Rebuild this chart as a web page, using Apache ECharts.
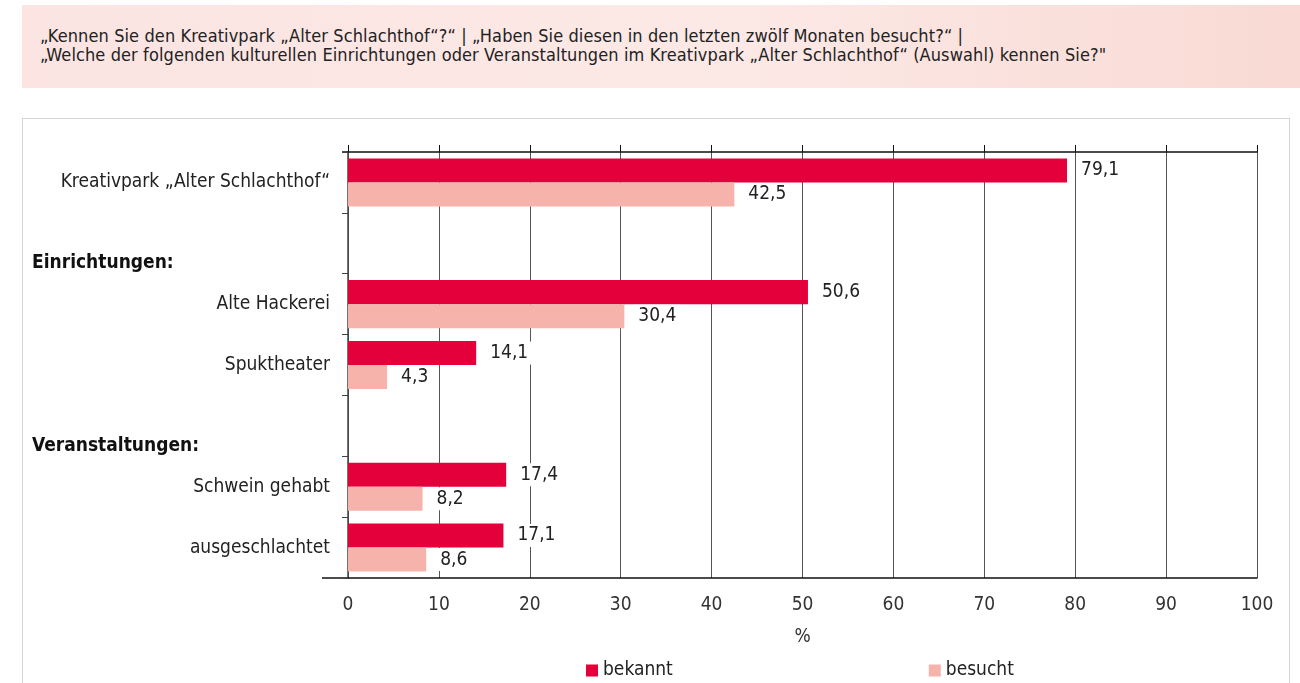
<!DOCTYPE html>
<html><head><meta charset="utf-8">
<script src="https://cdn.jsdelivr.net/npm/echarts@6/dist/echarts.min.js"></script>
<style>
html,body{margin:0;padding:0;background:#fff;}
#header{position:absolute;left:22px;top:5px;width:1278px;height:83px;background:linear-gradient(90deg,#fbe4e1 0%,#fce9e6 55%,#f9dad4 100%);}
#header div{position:absolute;left:18px;top:21px;font-family:"DejaVu Sans Condensed",sans-serif;font-size:18px;line-height:19px;letter-spacing:0.1px;color:#222;white-space:nowrap;}
#box{position:absolute;left:22px;top:118px;width:1266px;height:580px;border:1.5px solid #d4d4d4;}
#chart{position:absolute;left:0;top:0;width:1300px;height:683px;}
</style>
</head><body>
<div id="header"><div>„Kennen Sie den Kreativpark „Alter Schlachthof“?“ | „Haben Sie diesen in den letzten zwölf Monaten besucht?“ |<br>„Welche der folgenden kulturellen Einrichtungen oder Veranstaltungen im Kreativpark „Alter Schlachthof“ (Auswahl) kennen Sie?"</div></div>
<div id="box"></div>
<div id="chart"></div>
<script>
const categories = ['Kreativpark „Alter Schlachthof“', 'Einrichtungen:', 'Alte Hackerei', 'Spuktheater', 'Veranstaltungen:', 'Schwein gehabt', 'ausgeschlachtet'];
const headings = ['Einrichtungen:', 'Veranstaltungen:'];
const bekannt = [79.1, null, 50.6, 14.1, null, 17.4, 17.1];
const besucht = [42.5, null, 30.4, 4.3, null, 8.2, 8.6];
const xTicks = [0, 10, 20, 30, 40, 50, 60, 70, 80, 90, 100];

const FONT = '"DejaVu Sans Condensed",sans-serif';
const chart = echarts.init(document.getElementById('chart'));
const fmt = v => String(v).replace('.', ',');
const lbl = {
  show: true, position: 'right', distance: 10,
  formatter: p => fmt(p.value),
  fontFamily: FONT, fontSize: 19, color: '#222',
  backgroundColor: '#fff', padding: [2, 4, 2, 4]
};
chart.setOption({
  animation: false,
  textStyle: { fontFamily: FONT },
  grid: { left: 348, right: 43, top: 152, bottom: 105, containLabel: false },
  legend: {
    data: ['bekannt', 'besucht'], left: 581, bottom: -2, itemGap: 256,
    icon: 'rect', itemWidth: 12, itemHeight: 12,
    textStyle: { fontFamily: FONT, fontSize: 19, color: '#222' }
  },
  xAxis: [{
    type: 'value', min: xTicks[0], max: xTicks[xTicks.length - 1], interval: 10, position: 'bottom',
    axisLine: { show: true, lineStyle: { color: '#111', width: 1.5 } },
    axisTick: { show: false },
    axisLabel: { fontFamily: FONT, fontSize: 19, color: '#333', margin: 18, formatter: v => fmt(v) },
    splitLine: { show: true, lineStyle: { color: '#555', width: 1 } },
    name: '%', nameLocation: 'middle', nameGap: 50,
    nameTextStyle: { fontFamily: FONT, fontSize: 19, color: '#333' }
  }, {
    type: 'value', min: 0, max: 100, interval: 10, position: 'top',
    axisLine: { show: true, lineStyle: { color: '#111', width: 1.5 } },
    axisTick: { show: true, length: 7, lineStyle: { color: '#111' } },
    axisLabel: { show: false }, splitLine: { show: false }
  }],
  yAxis: {
    type: 'category', data: categories, inverse: true,
    axisLine: { show: true, lineStyle: { color: '#444', width: 1.5 } },
    axisTick: { show: true, length: 6, lineStyle: { color: '#444' } },
    axisLabel: {
      interval: 0, margin: 18, fontFamily: FONT, fontSize: 19, color: '#222',
      formatter: v => headings.includes(v) ? '{h|' + v + '}' : v,
      rich: { h: { fontFamily: FONT, fontSize: 19, fontWeight: 'bold', color: '#111', width: 298, align: 'left', padding: [40, 0, 0, 0] } }
    }
  },
  series: [{
    name: 'bekannt', type: 'bar', data: bekannt, barGap: '0%', barCategoryGap: '21%',
    itemStyle: { color: '#e4003a' }, label: lbl
  }, {
    name: 'besucht', type: 'bar', data: besucht,
    itemStyle: { color: '#f5b3ab' }, label: lbl
  }]
});
// small extensions of the top and bottom axis lines to the left of the value axis origin
const o = chart.convertToPixel({ xAxisIndex: 0 }, 0);
const g = chart.getModel().getComponent('grid').coordinateSystem.getRect();
chart.setOption({
  graphic: [
    { type: 'line', shape: { x1: o - 26, y1: g.y + g.height, x2: o, y2: g.y + g.height }, style: { stroke: '#111', lineWidth: 1.5 }, silent: true },
    { type: 'line', shape: { x1: o - 6, y1: g.y, x2: o, y2: g.y }, style: { stroke: '#111', lineWidth: 1.5 }, silent: true }
  ]
});
</script>
</body></html>
